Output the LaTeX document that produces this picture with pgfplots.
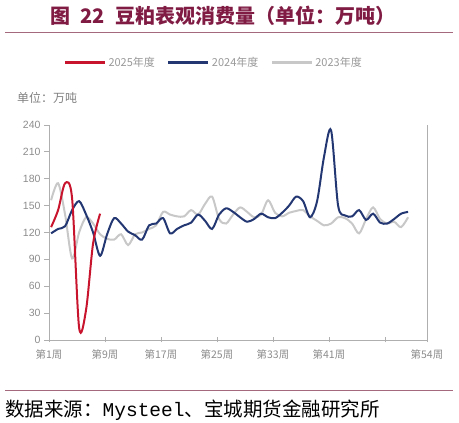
\documentclass[border=0pt]{standalone}
\usepackage{pgfplots}
\pgfplotsset{compat=1.18}
\usepackage{pgfplotstable}
\usepackage{fontspec}
\setmainfont{Liberation Sans}
\setmonofont{Liberation Mono}
\newfontfamily\cjk{Noto Sans CJK SC}
\definecolor{titlec}{RGB}{128,28,68}
\definecolor{rulec}{RGB}{165,105,125}
\definecolor{c25}{RGB}{200,20,45}
\definecolor{c24}{RGB}{35,55,115}
\definecolor{c23}{RGB}{200,200,200}
\definecolor{tickc}{RGB}{140,140,140}
\definecolor{axisc}{RGB}{175,175,175}

\pgfplotstableread{
w a b
1 156 119
2 175 124
3 140 127
4 91 145
5 120 155
6 137 140
7 130 120
8 118 94
9 113 118
10 112 136
11 118 130
12 106 121
13 118 117
14 120 112
15 124 128
16 128 130
17 143 136
18 140 119
19 138 124
20 138 128
21 145 131
22 140 140
23 152 133
24 160 124
25 135 140
26 130 147
27 140 143
28 148 137
29 143 132
30 137 135
31 140 141
32 156 137
33 142 136
34 138 142
35 142 150
36 144 160
37 145 155
38 138 137
39 133 155
40 128 205
41 130 234
42 137 150
43 136 139
44 130 138
45 119 145
46 135 134
47 148 141
48 135 131
49 130 130
50 132 135
51 126 141
52 137 143
}\dataA

\pgfplotstableread{
w r
1 126
2 145
3 175
4 158
5 14
6 34
7 108
8 141
}\dataR

\begin{document}
\begin{tikzpicture}
\path[use as bounding box] (0,0) rectangle (459pt,423pt);
\node[font=\cjk\bfseries\fontsize{20}{22}\selectfont, text=titlec] at (223pt,407pt) {图\hspace{0.5em}22\hspace{0.5em}豆粕表观消费量（单位：万吨）};
\draw[rulec, line width=1pt] (5pt,390pt) -- (453pt,390pt);
\node[anchor=west, font=\cjk\fontsize{12}{14}\selectfont, text=gray, inner sep=0pt] at (17pt,325pt) {单位：万吨};
\draw[rulec, line width=1pt] (5pt,32pt) -- (453pt,32pt);
\node[anchor=west, font=\cjk\fontsize{19.5}{22}\selectfont, inner sep=0pt] at (5pt,13pt) {数据来源：{\ttfamily Mysteel}、宝城期货金融研究所};
\begin{axis}[
  at={(49pt,83pt)}, anchor=south west,
  width=378pt, height=215pt, scale only axis,
  xmin=0.7, xmax=54.7, ymin=0, ymax=240,
  xtick={0.7,8.7,16.7,24.7,32.7,40.7,48.7,54.7},
  xticklabels={第1周,第9周,第17周,第25周,第33周,第41周,,第54周},
  ytick={0,30,...,240},
  axis x line*=bottom, axis y line*=box, ytick pos=left,
  axis line style={axisc, line width=0.8pt},
  tick style={axisc, line width=0.8pt},
  major tick length=5pt,
  xtick align=center, ytick align=outside,
  /pgf/number format/assume math mode=true,
  xticklabel style={font=\cjk\fontsize{10.5}{12}\selectfont, text=tickc, yshift=-4pt},
  yticklabel style={font=\fontsize{10.5}{12}\selectfont, text=tickc},
  legend style={at={(axis description cs:0.03,1.29)}, anchor=west, draw=none, fill=none,
    font=\cjk\fontsize{11}{13}\selectfont, text=gray!80,
    /tikz/every even column/.append style={column sep=10pt}},
  legend columns=3, reverse legend,
  legend image code/.code={\draw[#1, line width=3pt] (0pt,0pt) -- (40pt,0pt);},
]
\addplot[c23, line width=2pt, smooth] table[x=w, y=a] {\dataA};
\addplot[c24, line width=2pt, smooth] table[x=w, y=b] {\dataA};
\addplot[c25, line width=2pt, smooth] table[x=w, y=r] {\dataR};
\legend{2023年度,2024年度,2025年度}
\end{axis}
\end{tikzpicture}
\end{document}
